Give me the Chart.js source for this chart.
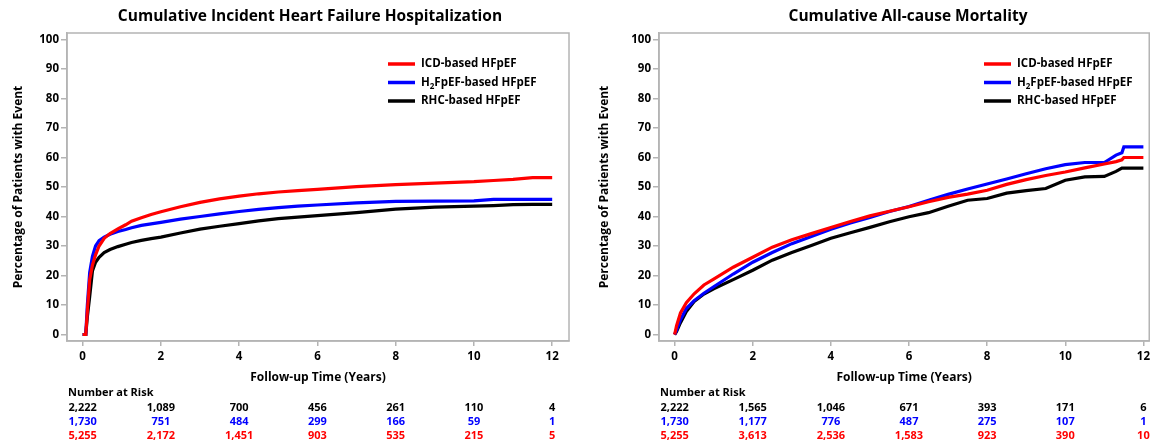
<!DOCTYPE html>
<html>
<head>
<meta charset="utf-8">
<script src="https://cdn.jsdelivr.net/npm/chart.js@4.4.1/dist/chart.umd.min.js"></script>
<style>
  html, body { margin: 0; padding: 0; background: #fff; overflow: hidden; }
  #wrap { position: relative; width: 1154px; height: 441px; }
  .box { position: absolute; top: 0; height: 441px; }
  #boxHF { left: 0; width: 580px; }
  #boxMort { left: 580px; width: 574px; }
</style>
</head>
<body>
<div id="wrap">
  <div class="box" id="boxHF"><canvas id="hfChart"></canvas></div>
  <div class="box" id="boxMort"><canvas id="mortChart"></canvas></div>
</div>
<script>
// ===== Data =====
const seriesNames  = ["ICD-based HFpEF", "H\u2082FpEF-based HFpEF", "RHC-based HFpEF"];
const seriesColors = ["#ff0000", "#0000ff", "#000000"];

const xTicks = [0, 2, 4, 6, 8, 10, 12];
const yTicks = [0, 10, 20, 30, 40, 50, 60, 70, 80, 90, 100];

// Heart failure hospitalization (years, %)
const hfTime = [0, 0.08, 0.12, 0.18, 0.25, 0.33, 0.42, 0.55, 0.7, 0.9, 1.1, 1.25, 1.5, 1.75, 2, 2.5, 3, 3.5, 4, 4.5, 5, 5.5, 6, 7, 8, 9, 10, 10.5, 11, 11.5, 12];
const hfICD   = [0, 0, 8, 18.6, 23.5, 27, 30, 32.6, 34.2, 35.8, 37.2, 38.4, 39.6, 40.7, 41.6, 43.3, 44.8, 46, 46.9, 47.7, 48.3, 48.8, 49.2, 50.1, 50.8, 51.3, 51.8, 52.2, 52.6, 53.2, 53.2];
const hfH2F   = [0, 0, 10, 21, 26.5, 30, 31.8, 33.0, 34.0, 34.9, 35.6, 36.2, 37, 37.5, 38, 39.1, 40, 40.9, 41.7, 42.4, 43, 43.5, 43.9, 44.6, 45.1, 45.2, 45.3, 45.8, 45.8, 45.8, 45.8];
const hfRHC   = [0, 0, 6, 12.9, 21.5, 24.5, 26.2, 27.8, 28.8, 29.8, 30.6, 31.2, 31.9, 32.5, 33, 34.4, 35.7, 36.7, 37.6, 38.5, 39.3, 39.8, 40.3, 41.3, 42.5, 43.2, 43.5, 43.7, 44, 44.1, 44.1];

// All-cause mortality (years, %)
const mortTime = [0, 0.05, 0.15, 0.3, 0.5, 0.75, 1, 1.5, 2, 2.5, 3, 3.5, 4, 4.5, 5, 5.5, 6, 6.5, 7, 7.5, 8, 8.5, 9, 9.5, 10, 10.5, 11, 11.3, 11.45, 11.5, 12];
const mortICD  = [0, 3, 7.3, 10.8, 13.8, 16.8, 18.8, 22.8, 26.2, 29.6, 32.1, 34.2, 36.3, 38.3, 40.2, 41.8, 43.3, 45, 46.5, 47.6, 48.9, 50.9, 52.5, 53.9, 55.1, 56.5, 57.8, 58.6, 59.2, 60, 60];
const mortH2F  = [0, 1.5, 5, 8.8, 11.5, 14, 16.2, 20.5, 24.5, 27.8, 30.8, 33.2, 35.7, 37.8, 39.7, 41.7, 43.4, 45.5, 47.5, 49.3, 51, 52.7, 54.5, 56.2, 57.6, 58.3, 58.3, 60.8, 61.6, 63.6, 63.6];
const mortRHC  = [0, 1, 4, 7.8, 11.2, 13.7, 15.5, 18.6, 21.8, 25.2, 27.8, 30.2, 32.6, 34.5, 36.3, 38.2, 39.9, 41.3, 43.5, 45.5, 46.1, 47.9, 48.8, 49.5, 52.3, 53.4, 53.6, 55.3, 56.4, 56.4, 56.4];

// Number at risk, rows in table order: RHC, H2FpEF, ICD
const riskTimes = [0, 2, 4, 6, 8, 10, 12];
const hfRiskRHC = ["2,222", "1,089", "700", "456", "261", "110", "4"];
const hfRiskH2F = ["1,730", "751", "484", "299", "166", "59", "1"];
const hfRiskICD = ["5,255", "2,172", "1,451", "903", "535", "215", "5"];
const mortRiskRHC = ["2,222", "1,565", "1,046", "671", "393", "171", "6"];
const mortRiskH2F = ["1,730", "1,177", "776", "487", "275", "107", "1"];
const mortRiskICD = ["5,255", "3,613", "2,536", "1,583", "923", "390", "10"];

// ===== Setup =====
const FONT = '"Open Sans", "DejaVu Sans", sans-serif';
Chart.defaults.font.family = FONT;
Chart.defaults.color = "#000";
const AXIS_GRAY = "#b4b4b4";

const pts = (t, v) => t.map((x, i) => ({ x, y: v[i] }));

// title, framed plot, in-plot legend and number-at-risk table
const decor = {
  id: "decor",
  afterDraw(chart, args, o) {
    const { ctx, chartArea: a, scales: { x } } = chart;
    ctx.save();
    ctx.strokeStyle = AXIS_GRAY;
    ctx.lineWidth = 1.5;
    ctx.strokeRect(a.left, a.top, a.right - a.left, a.bottom - a.top);

    ctx.fillStyle = "#000";
    ctx.textBaseline = "middle";
    ctx.textAlign = "center";
    ctx.font = "bold 15.5px " + FONT;
    ctx.fillText(o.title, o.titleX, 17);

    // legend (entries listed ICD, H2FpEF, RHC)
    ctx.textAlign = "left";
    seriesNames.forEach((name, i) => {
      const y = o.legendY + i * 18.5;
      ctx.strokeStyle = seriesColors[i];
      ctx.lineWidth = 3.5;
      ctx.beginPath();
      ctx.moveTo(o.legendX, y);
      ctx.lineTo(o.legendX + 27, y);
      ctx.stroke();
      ctx.fillStyle = "#000";
      let tx = o.legendX + 33;
      const parts = name.split("\u2082");
      parts.forEach((p, k) => {
        ctx.font = "bold 11.5px " + FONT;
        ctx.fillText(p, tx, y);
        tx += ctx.measureText(p).width;
        if (k < parts.length - 1) {
          ctx.font = "bold 8px " + FONT;
          ctx.fillText("2", tx, y + 4);
          tx += ctx.measureText("2").width;
        }
      });
    });

    // number at risk
    ctx.font = "bold 11px " + FONT;
    ctx.fillStyle = "#000";
    ctx.textAlign = "left";
    ctx.fillText("Number at Risk", a.left + 1, 393);
    ctx.textAlign = "center";
    o.risk.forEach((row, r) => {
      ctx.fillStyle = o.riskColors[r];
      row.forEach((v, i) => {
        ctx.fillText(v, x.getPixelForValue(riskTimes[i]), 408 + r * 14);
      });
    });
    ctx.restore();
  }
};

function mkKmChart(id, opts) {
  // black drawn first, red last (on top)
  const ds = opts.series.map((v, i) => ({
    label: seriesNames[i],
    data: pts(opts.time, v),
    borderColor: seriesColors[i],
    backgroundColor: seriesColors[i],
    borderWidth: 3.2,
    pointRadius: 0,
    tension: 0,
    fill: false,
    order: i
  }));
  return new Chart(document.getElementById(id), {
    type: "line",
    data: { datasets: ds },
    options: {
      responsive: true,
      maintainAspectRatio: false,
      animation: false,
      layout: { padding: { top: 33, bottom: 53, left: 0, right: opts.padRight } },
      plugins: {
        legend: { display: false },
        tooltip: { enabled: false },
        decor: {
          title: opts.title, titleX: opts.titleX,
          legendX: opts.legendX, legendY: 64,
          risk: opts.risk, riskColors: ["#000000", "#0000ff", "#ff0000"]
        }
      },
      scales: {
        x: {
          type: "linear", min: -0.4, max: opts.xMax,
          afterBuildTicks: s => { s.ticks = xTicks.map(v => ({ value: v })); },
          afterFit: s => { s.height = 47; },
          ticks: { font: { size: 11.5, weight: "bold" }, color: "#000", padding: 4 },
          grid: { drawOnChartArea: false, tickLength: 5, color: AXIS_GRAY, lineWidth: 1.5 },
          border: { color: AXIS_GRAY, width: 1.5 },
          title: { display: true, text: "Follow-up Time (Years)", font: { size: 12, weight: "bold" }, color: "#000", padding: { top: 0, bottom: 3 } }
        },
        y: {
          type: "linear", min: -2.2, max: 102.2,
          afterBuildTicks: s => { s.ticks = yTicks.map(v => ({ value: v })); },
          afterFit: s => { s.width = opts.yWidth; },
          ticks: { font: { size: 11.5, weight: "bold" }, color: "#000", padding: 2 },
          grid: { drawOnChartArea: false, tickLength: 6, color: AXIS_GRAY, lineWidth: 1.5 },
          border: { color: AXIS_GRAY, width: 1.5 },
          title: { display: true, text: "Percentage of Patients with Event", font: { size: 12, weight: "bold" }, color: "#000", padding: { top: opts.yTitlePad, bottom: 0 } }
        }
      }
    },
    plugins: [decor]
  });
}

mkKmChart("hfChart", {
  title: "Cumulative Incident Heart Failure Hospitalization",
  titleX: 310,
  time: hfTime,
  series: [hfICD, hfH2F, hfRHC],
  risk: [hfRiskRHC, hfRiskH2F, hfRiskICD],
  xMax: 12.43,
  padRight: 11,
  yWidth: 67,
  yTitlePad: 11,
  legendX: 388
});

mkKmChart("mortChart", {
  title: "Cumulative All-cause Mortality",
  titleX: 328,
  time: mortTime,
  series: [mortICD, mortH2F, mortRHC],
  risk: [mortRiskRHC, mortRiskH2F, mortRiskICD],
  xMax: 12.15,
  padRight: 3,
  yWidth: 79,
  yTitlePad: 17,
  legendX: 404
});
</script>
</body>
</html>
